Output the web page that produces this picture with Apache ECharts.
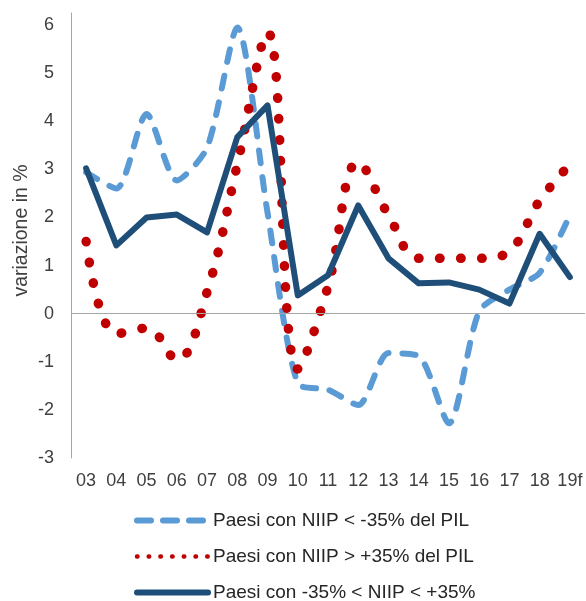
<!DOCTYPE html>
<html>
<head>
<meta charset="utf-8">
<script src="https://cdn.jsdelivr.net/npm/echarts@6/dist/echarts.min.js"></script>
<style>
html,body{margin:0;padding:0;background:#fff;}
#chart{width:586px;height:601px;}
</style>
</head>
<body>
<div id="chart"></div>
<script>
var categories = ['03','04','05','06','07','08','09','10','11','12','13','14','15','16','17','18','19f'];
var seriesNames = ['Paesi con NIIP < -35% del PIL','Paesi con NIIP > +35% del PIL','Paesi con -35% < NIIP < +35%'];
var negNiip = [2.94, 2.6, 4.15, 2.77, 3.45, 5.95, 2.1, -1.45, -1.58, -1.9, -0.82, -0.88, -2.28, 0.05, 0.5, 0.85, 2.05];
var posNiip = [1.5, -0.42, -0.3, -0.96, 0.45, 3.1, 5.85, -1.15, 0.57, 3.15, 2.05, 1.15, 1.15, 1.15, 1.3, 2.35, 3.1];
var midNiip = [3.02, 1.42, 2.0, 2.06, 1.69, 3.67, 4.33, 0.38, 0.8, 2.25, 1.15, 0.63, 0.65, 0.5, 0.21, 1.66, 0.76];
var yTicks = {min: -3, max: 6.25, interval: 1};
var yName = 'variazione in %';

var FONT = '"Liberation Sans", Arial, sans-serif';
var chart = echarts.init(document.getElementById('chart'), null, {renderer: 'canvas'});
chart.setOption({
  animation: false,
  backgroundColor: '#ffffff',
  grid: {left: 71, right: 1, top: 13, bottom: 143, containLabel: false},
  legend: {
    orient: 'vertical',
    left: 134,
    top: 511,
    height: 120,
    padding: 0,
    itemWidth: 71,
    itemHeight: 10,
    itemGap: 17,
    textStyle: {fontFamily: FONT, fontSize: 19, color: '#262626'},
    data: [
      {name: seriesNames[0], itemStyle: {opacity: 0}, lineStyle: {type: [14, 12], width: 6, cap: 'round', color: '#5B9BD5'}},
      {name: seriesNames[1], itemStyle: {opacity: 0}, lineStyle: {type: [0.5, 11.2], width: 4.5, cap: 'round', color: '#C00000'}},
      {name: seriesNames[2], itemStyle: {opacity: 0}, lineStyle: {type: 'solid', width: 6, cap: 'round', color: '#1F4E79'}}
    ]
  },
  xAxis: {
    type: 'category',
    data: categories,
    boundaryGap: true,
    axisLine: {show: false},
    axisTick: {show: false},
    axisLabel: {fontFamily: FONT, fontSize: 18, color: '#404040', margin: 14, interval: 0}
  },
  yAxis: {
    type: 'value',
    min: yTicks.min,
    max: yTicks.max,
    interval: yTicks.interval,
    name: yName,
    nameLocation: 'middle',
    nameGap: 39,
    nameMoveOverlap: false,
    nameTextStyle: {fontFamily: FONT, fontSize: 19.5, color: '#404040', padding: [0, 0, 0, 10]},
    axisLine: {show: true, lineStyle: {color: '#A6A6A6', width: 1}},
    axisTick: {show: false},
    splitLine: {show: false},
    axisLabel: {
      fontFamily: FONT, fontSize: 18, color: '#404040', margin: 17,
      formatter: function (v) { return Math.abs(v - Math.round(v)) < 1e-9 ? String(Math.round(v)) : ''; }
    }
  },
  series: [
    {
      name: seriesNames[0], type: 'line', data: negNiip, smooth: 0.25,
      symbol: 'none', showSymbol: false,
      lineStyle: {color: '#5B9BD5', width: 6, type: [13, 14], cap: 'round', join: 'round'},
      itemStyle: {color: '#5B9BD5'},
      markLine: {
        silent: true, symbol: ['none', 'none'], label: {show: false},
        lineStyle: {color: '#A6A6A6', width: 1, type: 'solid'},
        data: [{yAxis: 0}]
      }
    },
    {
      name: seriesNames[1], type: 'line', data: posNiip, smooth: 0.4,
      symbol: 'none', showSymbol: false,
      lineStyle: {color: '#C00000', width: 9.5, type: [0.5, 20.5], cap: 'round'},
      itemStyle: {color: '#C00000'}
    },
    {
      name: seriesNames[2], type: 'line', data: midNiip, smooth: false,
      symbol: 'none', showSymbol: false,
      lineStyle: {color: '#1F4E79', width: 6, type: 'solid', cap: 'round', join: 'round'},
      itemStyle: {color: '#1F4E79'}
    }
  ]
});
</script>
</body>
</html>
